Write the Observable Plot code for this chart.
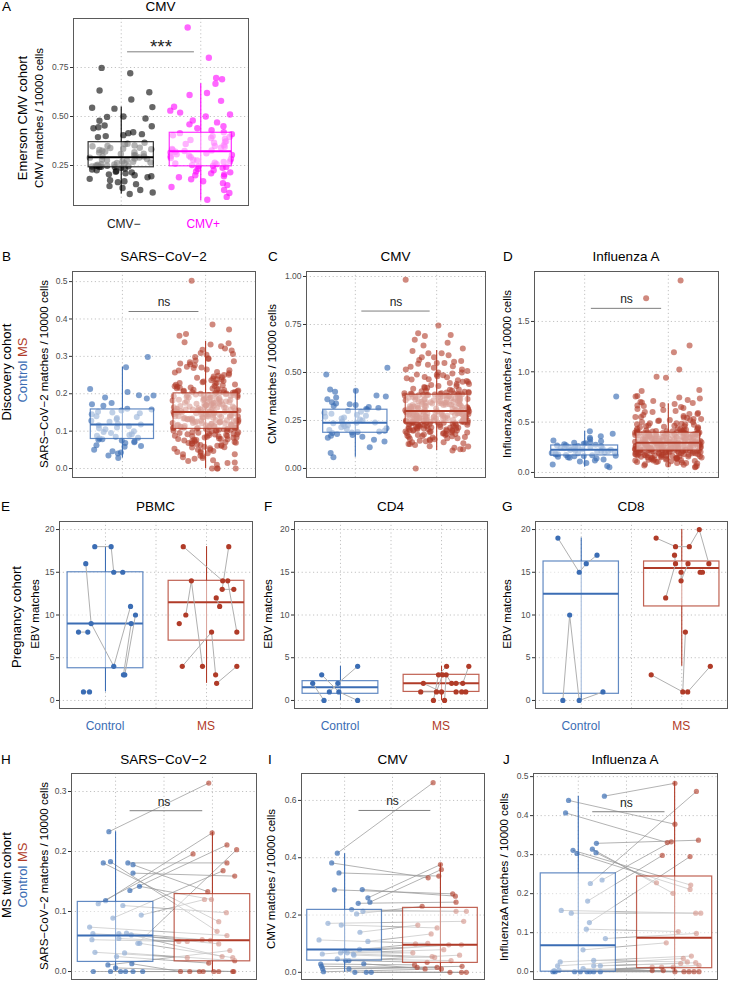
<!DOCTYPE html>
<html><head><meta charset="utf-8">
<script src="https://cdn.jsdelivr.net/npm/d3@7"></script>
<script src="https://cdn.jsdelivr.net/npm/@observablehq/plot@0.6"></script>
<style>
body{margin:0;background:#fff;font-family:"Liberation Sans",Arial,sans-serif;}
#fig{position:relative;width:729px;height:981px;overflow:hidden;background:#fff}
.abs{position:absolute;white-space:nowrap;line-height:1}
</style></head>
<body><div id="fig"></div>
<script>
// ================= DATA =================
const catsA = ["CMV−", "CMV+"];
const groups = ["Control", "MS"];

// Panel A – Emerson CMV cohort (CMV matches / 10000 cells)
const aNegVals = [.748,.721,.633,.624,.587,.548,.545,.54,.5,.498,.49,.478,.454,.45,.445,.44,.42,.415,.41,.405,.4,.395,
 .366,.361,.359,.352,.35,.348,.341,.339,.336,.333,.329,.326,.321,.318,.316,.31,.309,.303,.301,.297,.296,.291,.29,.286,.283,.281,.277,.276,.271,.269,.266,.263,.262,.257,.255,.254,.25,.249,.248,.246,.245,.244,.243,.242,
 .238,.235,.23,.226,.222,.218,.215,.21,.205,.2,.195,.19,.182,.175,.17,.165,.155,.145,.135,.125,.112,.105];
const aPosVals = [.954,.8,.697,.69,.667,.62,.61,.58,.55,.53,.52,.51,.5,.48,.47,.46,.45,.44,.43,.42,
 .415,.41,.404,.4,.396,.39,.386,.38,.374,.37,.366,.36,.354,.35,.346,.341,.335,.33,.327,.324,
 .32,.317,.312,.307,.304,.3,.297,.292,.288,.283,.28,.276,.271,.268,.264,.26,.257,.252,.249,.247,
 .243,.238,.232,.226,.22,.215,.21,.205,.2,.195,.19,.18,.17,.16,.15,.14,.125,.11,.09,.075];
const aNegBox = [.105,.241,.292,.369,.548]; // whisker low, Q1, median, Q3, whisker high
const aPosBox = [.07,.246,.323,.417,.667];

// Panel B – Discovery cohort, SARS-CoV-2
const bCtrlVals = [.298,.271,.213,.205,.196,.195,.19,.187,.175,.172,.168,.16,.158,.155,.152,.15,.148,.145,.14,.138,.135,.132,.128,.125,.12,.118,.116,.113,.11,.108,.105,.1,.098,.095,.092,.09,.088,.085,.082,.08,.078,.077,.075,.072,.07,.068,.062,.06,.058,.05,.046,.043,.04,.035,.028];
const bMsVals = [.502,.385,.372,.36,.355,
 .338,.332,.327,.321,.316,.309,.304,.298,.293,.289,.284,.281,.276,.272,.269,.265,.262,.258,.255,.251,.248,.246,.243,.241,.238,.236,.233,.231,.229,.227,.225,.223,.221,.219,.217,.215,.213,.212,.21,.208,.207,.205,.204,.203,.202,
 .2,.198,.197,.195,.194,.193,.19,.189,.188,.186,.185,.183,.182,.18,.179,.178,.176,.175,.174,.172,.171,.17,.168,.167,.166,.165,.163,.162,.161,.16,.159,.158,.157,.156,.155,.154,.153,.152,.152,.151,.199,.191,.184,.177,.169,.164,.187,.173,.196,.158,
 .15,.149,.148,.146,.145,.144,.143,.141,.14,.139,.138,.136,.135,.134,.133,.131,.13,.129,.128,.126,.125,.124,.122,.121,.12,.119,.118,.116,.115,.114,.113,.112,.111,.11,.109,.108,.107,.106,.147,.137,.127,.117,.142,.132,.123,.114,.128,.139,.121,.109,
 .105,.104,.102,.101,.1,.098,.097,.095,.094,.092,.091,.09,.088,.087,.085,.083,.082,.08,.078,.077,.075,.073,.071,.069,.067,.065,.063,.061,.058,.056,.053,.05,.047,.044,.041,.038,.034,.03,.026,.02,.015,.101,.093,.086,.079,.068,0,0,0,0,
 .335,.318,.306,.295,.287,.279,.27,.263,.257,.25,.244,.239,.234,.229,.224,.22,.216,.214,.211,.209,.206,.204,.203,.202,.201,
 .2,.197,.195,.192,.19,.187,.185,.183,.18,.178,.176,.173,.171,.168,.166,.164,.162,.16,.158,.157,.155,.154,.153,.152,.151,
 .15,.148,.146,.144,.142,.14,.138,.136,.134,.132,.13,.128,.126,.124,.122,.12,.118,.116,.114,.112,.11,.109,.108,.107,.106,
 .104,.1,.096,.092,.089,.086,.083,.079,.076,.073,.07,.066,.063,.06,.057,.054,.05,.046,.042,.038,.033,.028,.022,.016,.01];
const bCtrlBox = [.028,.079,.118,.158,.271];
const bMsBox = [0,.106,.151,.201,.34];

// Panel C – Discovery cohort, CMV
const cCtrlVals = [.525,.49,.411,.405,.4,.38,.375,.37,.36,.345,.338,.335,.33,.325,.32,.315,.31,.307,.3,.296,.29,.285,.28,.275,.27,.265,.26,.255,.25,.245,.24,.238,.235,.23,.225,.22,.215,.21,.205,.2,.196,.193,.19,.187,.185,.18,.175,.17,.165,.16,.15,.14,.11,.08,.059];
const cMsVals = [.983,.745,.705,.695,.69,.67,.655,.64,.625,0,
 .612,.6,.59,.58,.565,.556,.55,.54,.532,.525,.515,.508,.5,.495,.49,.485,.48,.475,.47,.465,.46,.455,.45,.445,.44,.435,.43,.425,.42,.415,.41,.405,.402,.398,.395,.392,.39,.388,.386,.385,
 .383,.381,.379,.377,.375,.372,.37,.368,.366,.363,.361,.359,.357,.354,.352,.35,.348,.345,.343,.341,.339,.336,.334,.332,.33,.327,.325,.323,.321,.318,.316,.314,.312,.31,.308,.306,.304,.302,.3,.376,.362,.347,.333,.319,.305,.371,.356,.338,.326,.311,
 .298,.296,.294,.293,.291,.289,.288,.286,.284,.283,.281,.279,.278,.276,.274,.273,.271,.269,.268,.266,.264,.263,.261,.259,.258,.256,.254,.253,.251,.249,.248,.246,.244,.243,.241,.239,.295,.285,.275,.265,.255,.245,.29,.28,.27,.26,.25,.287,.262,.247,
 .237,.235,.233,.231,.229,.227,.225,.223,.221,.219,.217,.215,.213,.211,.209,.207,.205,.203,.201,.199,.197,.195,.193,.19,.188,.185,.182,.18,.177,.174,.171,.168,.165,.162,.158,.155,.15,.146,.142,.137,.132,.127,.122,.115,.108,.1,.094,.226,.212,.198,
 .6,.58,.56,.545,.53,.515,.5,.488,.476,.464,.452,.44,.43,.42,.412,.405,.4,.396,.392,.389,.387,.386,.385,.384,.55,
 .383,.38,.376,.373,.369,.366,.362,.359,.355,.352,.348,.345,.341,.338,.334,.331,.327,.324,.32,.317,.313,.31,.306,.303,.3,
 .298,.295,.292,.289,.286,.283,.28,.277,.274,.271,.268,.265,.262,.259,.256,.253,.25,.247,.245,.243,.241,.24,.239,.238,.282,
 .236,.232,.228,.224,.22,.216,.212,.208,.204,.2,.196,.192,.188,.184,.179,.174,.169,.164,.158,.152,.145,.137,.128,.116,.1];
const cCtrlBox = [.059,.186,.238,.306,.411];
const cMsBox = [.094,.238,.299,.384,.615];

// Panel D – Discovery cohort, Influenza A
const dCtrlVals = [.755,.41,.385,.36,.345,.33,.318,.31,.3,.295,.29,.285,.28,.275,.27,.267,.264,.26,.256,.252,.248,.244,.24,.236,.232,.228,.225,.222,.218,.214,.21,.206,.202,.198,.194,.19,.186,.182,.178,.174,.17,.167,.164,.16,.155,.15,.145,.138,.13,.12,.11,.095,.08,.065,.053];
const dMsVals = [1.907,1.731,1.261,1.195,1.023,.95,.94,.82,.81,.76,.755,.745,.735,.72,.71,.7,.695,.69,
 .68,.67,.665,.65,.64,.63,.62,.61,.6,.59,.58,.57,.56,.55,.545,.54,.53,.52,.515,.51,.5,.49,.485,.48,.47,.46,.455,.45,.44,.435,.43,.425,.42,.415,.41,.405,.4,.398,.396,.395,
 .393,.391,.389,.387,.385,.382,.38,.378,.375,.373,.37,.368,.365,.362,.36,.357,.355,.352,.35,.347,.345,.342,.34,.337,.335,.332,.33,.327,.325,.322,.32,.317,.315,.312,.31,.307,.305,.302,.3,.297,.296,.383,.366,.349,.333,.318,.303,.371,.338,.311,
 .294,.292,.29,.288,.286,.284,.282,.28,.278,.276,.274,.272,.27,.268,.266,.264,.262,.26,.258,.256,.254,.252,.25,.248,.246,.244,.242,.24,.238,.236,.234,.232,.23,.228,.226,.224,.222,.22,.219,.289,.279,.269,.259,.249,.239,.229,.285,.263,.241,.221,
 .217,.215,.212,.21,.208,.205,.203,.2,.198,.195,.193,.19,.188,.185,.182,.18,.177,.174,.171,.168,.165,.162,.158,.155,.152,.148,.145,.141,.137,.133,.129,.125,.12,.115,.11,.105,.1,.094,.088,.082,.076,.07,.064,.058,.052,.21,.19,.17,.15,.13,
 .66,.6,.58,.55,.52,.5,.48,.465,.45,.44,.43,.42,.413,.407,.402,.399,.397,.395,.394,.475,.53,.49,.46,.425,.41,
 .392,.388,.384,.38,.376,.372,.368,.364,.36,.356,.352,.348,.344,.34,.336,.332,.328,.324,.32,.316,.312,.308,.304,.3,.297,
 .293,.29,.287,.284,.281,.278,.275,.272,.269,.266,.263,.26,.257,.254,.251,.248,.245,.242,.239,.236,.233,.23,.227,.224,.22,
 .216,.212,.208,.204,.2,.196,.192,.187,.183,.179,.175,.17,.166,.161,.156,.151,.146,.14,.134,.127,.12,.112,.103,.093,.08];
const dCtrlBox = [.053,.169,.225,.268,.41];
const dMsBox = [.05,.218,.295,.394,.682];

// Panels E–G – Pregnancy cohort, EBV matches (value, jitter, individual id)
const eCtrlVals = [18,18,15,15, 16,9,4,11, 8,8, 1,1, 3,9, 3,10];
const eCtrlJit  = [-.106,.056,.082,.171, -.195,-.142,.082,.248, -.267,-.175, -.218,-.158, .178,.254, .191,.297];
const eCtrlId   = [1,1,1,1, 2,2,2,2, 3,3, 4,4, 5,5, 6,6];
const eMsVals = [18,14, 18,13,13, 10,14,4, 14,8, 12,11, 4,8,3, 2,4, 9];
const eMsJit  = [-.23,.16, .22,.155,.27, -.205,-.15,-.04, .21,.30, .096,.13, -.24,.05,.09, .10,.30, -.27];
const eMsId   = [1,1, 2,2,2, 3,3,3, 4,4, 5,5, 6,6,6, 7,7, 8];
const eCtrlBox = [1,3.77,9,15,18];
const eMsBox = [2,7,11.5,14,18];

const fCtrlVals = [2,0, 3,1,0, 1,2,4];
const fCtrlJit  = [-.275,-.163, -.186,-.016,.17, -.11,-.026,.17];
const fCtrlId   = [1,1, 2,2,2, 3,3,3];
const fMsVals = [1,1,3, 2,1, 0,3,4, 0,3,2, 2,2,4, 1,1,1];
const fMsJit  = [-.206,-.05,.01, -.18,0, -.08,-.03,.05, .03,.046,.1, .144,.21,.27, .144,.2,.24];
const fMsId   = [1,1,1, 2,2, 3,3,3, 4,4,4, 5,5,5, 6,6,6];
const fCtrlBox = [0,.78,1.56,2.26,4];
const fMsBox = [0,1,2.02,3,4];

const gCtrlVals = [19,15,16,17, 0,10,0,1];
const gCtrlJit  = [-.232,-.02,.05,.157, -.183,-.115,-.02,.216];
const gCtrlId   = [1,1,1,1, 2,2,2,2];
const gMsVals = [19,18,18,20,16, 17,16,12, 16,14,15, 15,15, 8,1,3, 1,4];
const gMsJit  = [-.255,-.062,.075,.174,.27, -.072,-.062,-.16, .062,-.007,-.007, .183,.206, .036,.01,-.304, .059,.284];
const gMsId   = [1,1,1,1,1, 2,2,2, 3,3,3, 4,4, 5,5,5, 6,6];
const gCtrlBox = [0,.78,12.5,16.26,19];
const gMsBox = [4,11,15.5,16.26,20];

// Panels H–J – MS twin cohort (twin pairs: control[i] <-> MS[i])
const hCtrlVals = [.233,.181,.183,.181,.178,.164,.142,.135,.113,.118,.11,.089,.094,.074,.063,.063,.064,.053,.055,.061,.047,.047,.032,.031,.025,.011,.013,0,0,0,0,0,0,.006];
const hCtrlJit  = [-.069,-.127,-.052,.127,.18,.18,.247,.148,-.179,-.103,.075,-.028,.265,-.268,-.234,.034,.113,-.244,.034,.162,.23,.25,-.213,.093,.01,-.079,.168,-.23,-.052,.052,.103,.18,.28,0];
const hMsVals   = [.314,.083,.067,.181,.133,.159,.12,.211,.196,.231,.098,.168,.12,.06,.053,.046,.052,.05,.05,.025,.203,.023,.023,.018,.014,.035,0,0,0,0,0,0,0,0];
const hMsJit    = [-.038,.065,.048,.15,-.048,.23,-.01,.15,-.2,-.003,.144,.11,-.082,.15,-.106,.065,-.02,-.347,-.26,.1,.25,.21,-.26,.23,-.038,.18,-.33,-.234,-.134,-.096,.014,.065,.21,.22];
const hCtrlBox = [0,.016,.06,.116,.233];
const hMsBox = [0,.017,.052,.129,.232];

const iCtrlVals = [.416,.382,.347,.288,.289,.26,.245,.241,.219,.213,.204,.171,.165,.14,.113,.108,.08,.064,.068,.068,.064,.06,.047,.041,.041,.029,.021,.012,.012,.002,0,0,0,.03,.075];
const iCtrlJit  = [-.076,-.135,-.059,-.107,.184,.243,.264,.142,.073,.191,.125,-.174,-.035,.16,-.267,.243,.156,-.233,-.042,.028,.09,.097,-.076,.01,.045,-.25,-.24,-.229,.045,-.22,.107,.226,.278,.2,0];
const iMsVals   = [.662,.33,.336,.274,.266,.376,.359,.245,.213,.213,.23,.178,.155,.165,.101,.134,.096,.096,.079,.068,.055,.052,.041,.035,.06,.026,.017,.021,.017,.012,0,0,0,.012,.099];
const iMsJit    = [-.076,-.128,-.017,.128,.156,0,.01,.163,.163,.271,-.191,.243,-.035,-.236,-.132,-.097,.219,.087,.035,-.288,-.087,-.06,.111,-.139,.2,-.27,-.243,.226,-.035,.01,.1,.22,.27,-.16,-.26];
const iCtrlBox = [0,.041,.08,.218,.414];
const iMsBox = [0,.033,.096,.225,.379];

const jCtrlVals = [.45,.439,.407,.329,.311,.303,.314,.305,.235,.226,.181,.157,.15,.126,.109,.085,.056,.025,.015,.029,.015,.015,0,0,0,0,0,0,0,.003,.008,0,.004];
const jCtrlJit  = [.271,-.101,-.132,.188,-.055,-.014,.146,.184,.247,.125,.097,-.177,-.073,.115,.083,.281,.049,-.188,-.215,.16,.16,.229,-.264,-.24,-.038,.021,.09,.16,.229,-.25,.05,.12,-.2];
const jMsVals   = [.483,.378,.331,.337,.222,.211,.201,.228,.333,.462,.298,.15,.15,.295,.103,.098,.074,.04,.034,.025,.021,.023,.016,.012,.003,.012,.003,.012,0,0,0,0,0];
const jMsJit    = [.003,.003,-.076,.247,.167,.16,-.017,-.188,-.035,.226,-.128,.219,.271,.16,.038,.226,-.087,.174,.09,.132,.063,.219,.253,-.233,-.233,-.135,-.118,-.014,.003,.097,.149,.201,.253];
const jCtrlBox = [0,0,.068,.252,.45];
const jMsBox = [0,.009,.087,.244,.486];

// significance annotations
const sigLabels = {A: "***", B: "ns", C: "ns", D: "ns", H: "ns", I: "ns", J: "ns"};
const sigLevels = {A: .83, B: .42, C: .82, D: 1.63, H: .268, I: .565, J: .41};

// ================= DRAWING =================
const BLUE = "#3b6db4", RED = "#b03b28", MAG = "#ff00ff", BLK = "#000000";
const GRID = "#c2c2c2";
const ML = 36, MR = 3, MT = 3, MB = 3;
const fig = document.getElementById("fig");

const layout = {
  A: {left:73, right:248, top:18, bottom:205, xDomain:[0.4,2.6], yDomain:[0.046,1.0], yTicks:[.25,.5,.75], fmt:".2f", xGrid:[1,2]},
  B: {left:72, right:255, top:271, bottom:477, xDomain:[0.4,2.6], yDomain:[-0.024,0.527], yTicks:[0,.1,.2,.3,.4,.5], fmt:".1f", xGrid:[1,2]},
  C: {left:306, right:485, top:271, bottom:477, xDomain:[0.4,2.6], yDomain:[-0.047,1.026], yTicks:[0,.25,.5,.75,1], fmt:".2f", xGrid:[1,2]},
  D: {left:534, right:718, top:271, bottom:477, xDomain:[0.4,2.6], yDomain:[-0.05,1.996], yTicks:[0,.5,1,1.5], fmt:".1f", xGrid:[1,2]},
  E: {left:59, right:252, top:521, bottom:708, xDomain:[0.545,2.455], yDomain:[-0.94,20.94], yTicks:[0,5,10,15,20], fmt:"d", xGrid:[1,1.5,2]},
  F: {left:294, right:487, top:521, bottom:708, xDomain:[0.545,2.455], yDomain:[-0.94,20.94], yTicks:[0,5,10,15,20], fmt:"d", xGrid:[1,1.5,2]},
  G: {left:535, right:727, top:521, bottom:708, xDomain:[0.545,2.455], yDomain:[-0.94,20.94], yTicks:[0,5,10,15,20], fmt:"d", xGrid:[1,1.5,2]},
  H: {left:71, right:256, top:773, bottom:979, xDomain:[0.545,2.455], yDomain:[-0.0133,0.33], yTicks:[0,.1,.2,.3], fmt:".1f", xGrid:[1,1.5,2]},
  I: {left:301, right:484, top:773, bottom:979, xDomain:[0.55,2.46], yDomain:[-0.025,0.694], yTicks:[0,.2,.4,.6], fmt:".1f", xGrid:[1,1.5,2]},
  J: {left:533, right:717, top:773, bottom:979, xDomain:[0.535,2.445], yDomain:[-0.02,0.508], yTicks:[0,.1,.2,.3,.4,.5], fmt:".1f", xGrid:[1,1.5,2]}
};

// deterministic horizontal jitter for the dense clouds (position only, hash of the point index)
function jit(i, w, seed) {
  const s = Math.sin((i + 1) * 12.9898 + seed * 78.233) * 43758.5453;
  return ((s - Math.floor(s)) - 0.5) * 2 * w;
}

function boxMarks(g, s, w, color, fillOp) {
  const [lo, q1, med, q3, hi] = s;
  return [
    Plot.ruleX([g], {x: d => d, y1: () => lo, y2: () => hi, stroke: color, strokeWidth: 1.1}),
    Plot.rect([g], {x1: d => d - w/2, x2: d => d + w/2, y1: () => q1, y2: () => q3, fill: "white", fillOpacity: fillOp, stroke: color, strokeOpacity: 0.8, strokeWidth: 1.2}),
    Plot.ruleY([med], {y: d => d, x1: () => g - w/2, x2: () => g + w/2, stroke: color, strokeWidth: 2})
  ];
}

function sigMarks(key, x1, x2) {
  if (!sigLabels[key]) return [];
  const y = sigLevels[key];
  const star = sigLabels[key] === "***";
  return [
    Plot.ruleY([y], {y: d => d, x1: () => x1, x2: () => x2, stroke: "#7f7f7f", strokeWidth: 1}),
    Plot.text([sigLabels[key]], {x: () => 1.5, y: () => y, dy: star ? -5 : -9, fontSize: star ? 19 : 12, fill: "#222"})
  ];
}

function build(key, marks) {
  const spec = layout[key];
  const svg = Plot.plot({
    width: spec.right - spec.left + ML + MR,
    height: spec.bottom - spec.top + MT + MB,
    marginLeft: ML, marginRight: MR, marginTop: MT, marginBottom: MB,
    x: {type: "linear", domain: spec.xDomain, axis: null},
    y: {type: "linear", domain: spec.yDomain},
    style: {fontFamily: "'Liberation Sans', Arial, sans-serif", background: "transparent", overflow: "visible"},
    marks: [
      Plot.gridY(spec.yTicks, {stroke: GRID, strokeOpacity: 1, strokeWidth: 1, strokeDasharray: "1.2,2.6"}),
      Plot.gridX(spec.xGrid, {stroke: GRID, strokeOpacity: 1, strokeWidth: 1, strokeDasharray: "1.2,2.6"}),
      ...marks,
      Plot.axisY(spec.yTicks, {tickSize: 3, tickPadding: 2, tickFormat: d3.format(spec.fmt), fontSize: 8.5, fill: "#4d4d4d", stroke: "#333", label: null}),
      Plot.frame({stroke: "#5a5a5a", strokeWidth: 1})
    ]
  });
  svg.style.position = "absolute";
  svg.style.left = (spec.left - ML) + "px";
  svg.style.top = (spec.top - MT) + "px";
  fig.appendChild(svg);
  return svg;
}

function densePanel(key, sides, r) {
  const marks = [];
  sides.forEach((s, k) => {
    const seed = key.charCodeAt(0) * 3 + k;
    marks.push(Plot.dot(s.vals, {x: (d, i) => s.g + jit(i, 0.4, seed), y: d => d, r, fill: s.color, fillOpacity: s.op}));
  });
  for (const s of sides) marks.push(...boxMarks(s.g, s.box, s.w, s.color, 0.5));
  marks.push(...sigMarks(key, 1.08, 1.92));
  return build(key, marks);
}

function groupPanel(key, sides) {
  const marks = [];
  for (const s of sides) marks.push(...boxMarks(s.g, s.box, 0.75, s.color, 0.55));
  for (const s of sides) {
    const idx = d3.range(s.vals.length);
    marks.push(Plot.line(idx, {x: i => s.g + s.jit[i], y: i => s.vals[i], z: i => s.id[i], stroke: "#b0b0b0", strokeWidth: 1}));
  }
  for (const s of sides) {
    const idx = d3.range(s.vals.length);
    marks.push(Plot.dot(idx, {x: i => s.g + s.jit[i], y: i => s.vals[i], r: 2.6, fill: s.color}));
  }
  return build(key, marks);
}

function twinPanel(key, cv, cj, mv, mj, cBox, mBox) {
  const idx = d3.range(cv.length);
  const marks = [
    Plot.link(idx, {x1: i => 1 + cj[i], y1: i => cv[i], x2: i => 2 + mj[i], y2: i => mv[i], stroke: "#9a9a9a", strokeOpacity: 0.75, strokeWidth: 1}),
    Plot.dot(idx, {x: i => 1 + cj[i], y: i => cv[i], r: 2.6, fill: BLUE, fillOpacity: 0.7}),
    Plot.dot(idx, {x: i => 2 + mj[i], y: i => mv[i], r: 2.6, fill: RED, fillOpacity: 0.62}),
    ...boxMarks(1, cBox, 0.78, BLUE, 0.45),
    ...boxMarks(2, mBox, 0.78, RED, 0.45),
    ...sigMarks(key, 1.15, 1.9)
  ];
  return build(key, marks);
}

// ----- build the panels -----
const P = {};
P.A = densePanel("A", [
  {g: 1, vals: aNegVals, box: aNegBox, color: BLK, op: 0.6, w: 0.82},
  {g: 2, vals: aPosVals, box: aPosBox, color: MAG, op: 0.6, w: 0.78}], 3.2);
P.B = densePanel("B", [
  {g: 1, vals: bCtrlVals, box: bCtrlBox, color: BLUE, op: 0.65, w: 0.76},
  {g: 2, vals: bMsVals, box: bMsBox, color: RED, op: 0.6, w: 0.77}], 3.0);
P.C = densePanel("C", [
  {g: 1, vals: cCtrlVals, box: cCtrlBox, color: BLUE, op: 0.65, w: 0.79},
  {g: 2, vals: cMsVals, box: cMsBox, color: RED, op: 0.6, w: 0.76}], 3.0);
P.D = densePanel("D", [
  {g: 1, vals: dCtrlVals, box: dCtrlBox, color: BLUE, op: 0.65, w: 0.8},
  {g: 2, vals: dMsVals, box: dMsBox, color: RED, op: 0.6, w: 0.76}], 3.0);

P.E = groupPanel("E", [
  {g: 1, vals: eCtrlVals, jit: eCtrlJit, id: eCtrlId, box: eCtrlBox, color: BLUE},
  {g: 2, vals: eMsVals, jit: eMsJit, id: eMsId, box: eMsBox, color: RED}]);
P.F = groupPanel("F", [
  {g: 1, vals: fCtrlVals, jit: fCtrlJit, id: fCtrlId, box: fCtrlBox, color: BLUE},
  {g: 2, vals: fMsVals, jit: fMsJit, id: fMsId, box: fMsBox, color: RED}]);
P.G = groupPanel("G", [
  {g: 1, vals: gCtrlVals, jit: gCtrlJit, id: gCtrlId, box: gCtrlBox, color: BLUE},
  {g: 2, vals: gMsVals, jit: gMsJit, id: gMsId, box: gMsBox, color: RED}]);

P.H = twinPanel("H", hCtrlVals, hCtrlJit, hMsVals, hMsJit, hCtrlBox, hMsBox);
P.I = twinPanel("I", iCtrlVals, iCtrlJit, iMsVals, iMsJit, iCtrlBox, iMsBox);
P.J = twinPanel("J", jCtrlVals, jCtrlJit, jMsVals, jMsJit, jCtrlBox, jMsBox);

// ----- text -----
function txt(html, x, y, o = {}) {
  const d = document.createElement("div");
  d.className = "abs";
  d.innerHTML = html;
  d.style.left = x + "px";
  d.style.top = y + "px";
  d.style.fontSize = (o.size || 12) + "px";
  d.style.color = o.color || "#000";
  const tx = o.anchor === "start" ? "0" : "-50%";
  d.style.transform = `translate(${tx},-50%)` + (o.rot ? " rotate(-90deg)" : "");
  fig.appendChild(d);
}
function xpix(key, v) { return layout[key].left - ML + P[key].scale("x").apply(v); }

// panel letters
[["A",2,7],["B",2,257],["C",268,257],["D",503,257],["E",1,507],["F",264,507],["G",502,507],["H",1,760],["I",268,760],["J",503,760]]
  .forEach(([t,x,y]) => txt(t, x, y, {size: 13.5, anchor: "start"}));

// panel titles
const titles = {A: "CMV", B: "SARS−CoV−2", C: "CMV", D: "Influenza A", E: "PBMC", F: "CD4", G: "CD8", H: "SARS−CoV−2", I: "CMV", J: "Influenza A"};
for (const k in titles) {
  const s = layout[k];
  const y = {A: 7, B: 257, C: 257, D: 257, E: 507, F: 507, G: 507, H: 760, I: 760, J: 760}[k];
  txt(titles[k], (s.left + s.right) / 2, y, {size: 13.5});
}

// x category labels
txt(catsA[0], xpix("A", 1) + 3, 224, {size: 12, color: "#1a1a1a"});
txt(catsA[1], xpix("A", 2) + 3, 224, {size: 12, color: MAG});
for (const k of ["E", "F", "G"]) {
  txt(groups[0], xpix(k, 1), 726, {size: 12, color: BLUE});
  txt(groups[1], xpix(k, 2), 726, {size: 12, color: RED});
}

// y titles
const cm = `<span style="color:${BLUE}">Control</span> <span style="color:${RED}">MS</span>`;
txt("Emerson CMV cohort", 22, 118, {size: 13, rot: true});
txt("CMV matches / 10000 cells", 39.5, 118, {size: 11.5, rot: true});

txt("Discovery cohort", 6, 372, {size: 13, rot: true});
txt(cm, 21.5, 370, {size: 13, rot: true});
txt("SARS−CoV−2 matches / 10000 cells", 45, 374, {size: 11.5, rot: true});
txt("CMV matches / 10000 cells", 273, 374, {size: 11.5, rot: true});
txt("InfluenzaA matches / 10000 cells", 508, 374, {size: 11.5, rot: true});

txt("Pregnancy cohort", 16, 617, {size: 13, rot: true});
txt("EBV matches", 36, 614, {size: 11.5, rot: true});
txt("EBV matches", 269, 614, {size: 11.5, rot: true});
txt("EBV matches", 507.5, 614, {size: 11.5, rot: true});

txt("MS twin cohort", 6, 875, {size: 13, rot: true});
txt(cm, 21.5, 875, {size: 13, rot: true});
txt("SARS−CoV−2 matches / 10000 cells", 45, 876, {size: 11.5, rot: true});
txt("CMV matches / 10000 cells", 272, 879, {size: 11.5, rot: true});
txt("InfluenzaA matches / 10000 cells", 505, 877, {size: 11.5, rot: true});
</script>
</body></html>
